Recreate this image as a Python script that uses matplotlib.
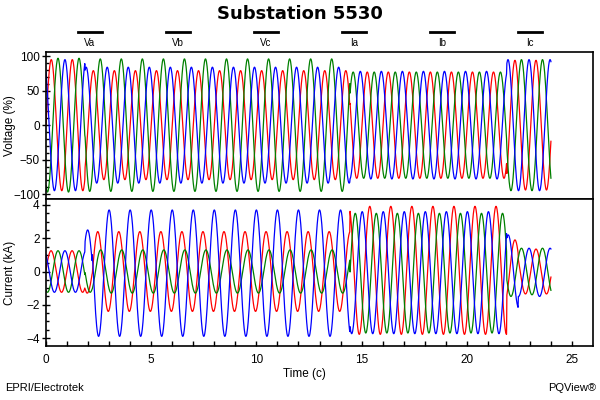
import numpy as np
import matplotlib.pyplot as plt
from matplotlib.lines import Line2D

# time is in cycles; each record is split into segments where the
# amplitude / phase (cycle position of the positive peak) / offset hold
samples_per_cycle = 64
t_end = 24.0

v_breaks = [0.0, 1.85, 14.45, 21.9, 24.0]
va_amp = [95, 79, 77, 94]
va_peak = [0.25, 0.25, 0.27, 0.29]
vb_amp = [97, 96, 77, 95]
vb_peak = [0.57, 0.58, 0.6, 0.6]
vc_amp = [95, 84, 78, 95]
vc_peak = [0.9, 0.91, 0.94, 0.96]

i_breaks = [0.0, 1.85, 2.2, 14.45, 21.9, 22.45, 24.0]
ia_amp = [1.25, 1.3, 2.4, 3.85, 1.9, 1.35]
ia_peak = [0.24, 0.46, 0.46, 0.39, 0.29, 0.29]
ia_dc = [0.0, 0.0, 0.0, 0.07, 0.0, 0.0]
ib_amp = [1.25, 1.25, 1.3, 3.6, 1.5, 1.4]
ib_peak = [0.57, 0.6, 0.6, 0.7, 0.6, 0.6]
ib_dc = [0.0, 0.0, 0.0, -0.1, 0.0, 0.0]
ic_amp = [1.25, 2.5, 3.8, 3.67, 2.2, 1.45]
ic_peak = [0.9, 0.98, 0.0, 0.03, 0.97, 0.96]
ic_dc = [0.0, 0.0, -0.1, -0.07, 0.0, -0.05]

legend_labels = ["Va", "Vb", "Vc", "Ia", "Ib", "Ic"]
phase_colors = ["#ff0000", "#008000", "#0000ff"]


def waveform(t, breaks, amp, peak, dc=None):
    seg = np.clip(np.searchsorted(breaks, t, side="right") - 1, 0, len(amp) - 1)
    amp = np.asarray(amp, dtype=float)[seg]
    peak = np.asarray(peak, dtype=float)[seg]
    off = 0.0 if dc is None else np.asarray(dc, dtype=float)[seg]
    return amp * np.cos(2 * np.pi * (t - peak)) + off


def main():
    t = np.arange(int(t_end * samples_per_cycle) + 1) / samples_per_cycle

    volts = [
        waveform(t, v_breaks, va_amp, va_peak),
        waveform(t, v_breaks, vb_amp, vb_peak),
        waveform(t, v_breaks, vc_amp, vc_peak),
    ]
    amps = [
        waveform(t, i_breaks, ia_amp, ia_peak, ia_dc),
        waveform(t, i_breaks, ib_amp, ib_peak, ib_dc),
        waveform(t, i_breaks, ic_amp, ic_peak, ic_dc),
    ]

    plt.rcParams["font.family"] = ["Liberation Sans", "DejaVu Sans"]
    fig = plt.figure(figsize=(6, 4), dpi=100)
    ax1 = fig.add_axes([46 / 600, 1 - 199 / 400, 547 / 600, 147 / 400])
    ax2 = fig.add_axes([46 / 600, 1 - 346 / 400, 547 / 600, 147 / 400])

    for y, c in zip(volts, phase_colors):
        ax1.plot(t, y, color=c, lw=0.9)
    for y, c in zip(amps, phase_colors):
        ax2.plot(t, y, color=c, lw=0.9)

    for ax in (ax1, ax2):
        ax.set_xlim(0, 26)
        for s in ax.spines.values():
            s.set_linewidth(1.2)
        ax.tick_params(axis="y", which="major", direction="inout", length=6,
                       width=1, pad=1.5, labelsize=8.5)
        ax.tick_params(axis="y", which="minor", direction="in", length=2.5, width=1)

    ax1.set_ylim(-107, 106)
    ax1.set_yticks([-100, -50, 0, 50, 100])
    ax1.set_yticks(np.arange(-100, 101, 10), minor=True)
    ax1.tick_params(axis="x", which="both", bottom=False, labelbottom=False)
    ax1.set_ylabel("Voltage (%)", fontsize=8.5, va="center")
    ax1.yaxis.set_label_coords(-0.066, 0.5)

    ax2.set_ylim(-4.48, 4.36)
    ax2.set_yticks([-4, -2, 0, 2, 4])
    ax2.set_yticks(np.arange(-4, 4.01, 0.5), minor=True)
    ax2.set_xticks([0, 5, 10, 15, 20, 25])
    ax2.set_xticks(np.arange(0, 26), minor=True)
    ax2.tick_params(axis="x", which="both", direction="in", length=3.8, width=1,
                    pad=6, labelsize=8.5)
    ax2.set_ylabel("Current (kA)", fontsize=8.5, va="center")
    ax2.yaxis.set_label_coords(-0.066, 0.5)

    fig.text(304 / 600, 1 - 374 / 400, "Time (c)", ha="center", va="center", fontsize=8.5)
    fig.text(0.5, 1 - 14 / 400, "Substation 5530", ha="center", va="center",
             fontsize=13, fontweight="bold", family="DejaVu Sans")

    # legend row: short black bars with the channel name underneath
    for i, name in enumerate(legend_labels):
        xc = (90 + i * 88) / 600
        fig.add_artist(Line2D([xc - 12 / 600, xc + 12 / 600], [1 - 32 / 400] * 2,
                              color="black", lw=2, transform=fig.transFigure))
        fig.text(xc, 1 - 43 / 400, name, ha="center", va="center", fontsize=7)

    fig.text(5 / 600, 1 - 388 / 400, "EPRI/Electrotek", ha="left", va="center", fontsize=8)
    fig.text(596 / 600, 1 - 388 / 400, "PQView\u00ae", ha="right", va="center", fontsize=8)

    fig.savefig("out.png", dpi=100)


if __name__ == "__main__":
    main()
